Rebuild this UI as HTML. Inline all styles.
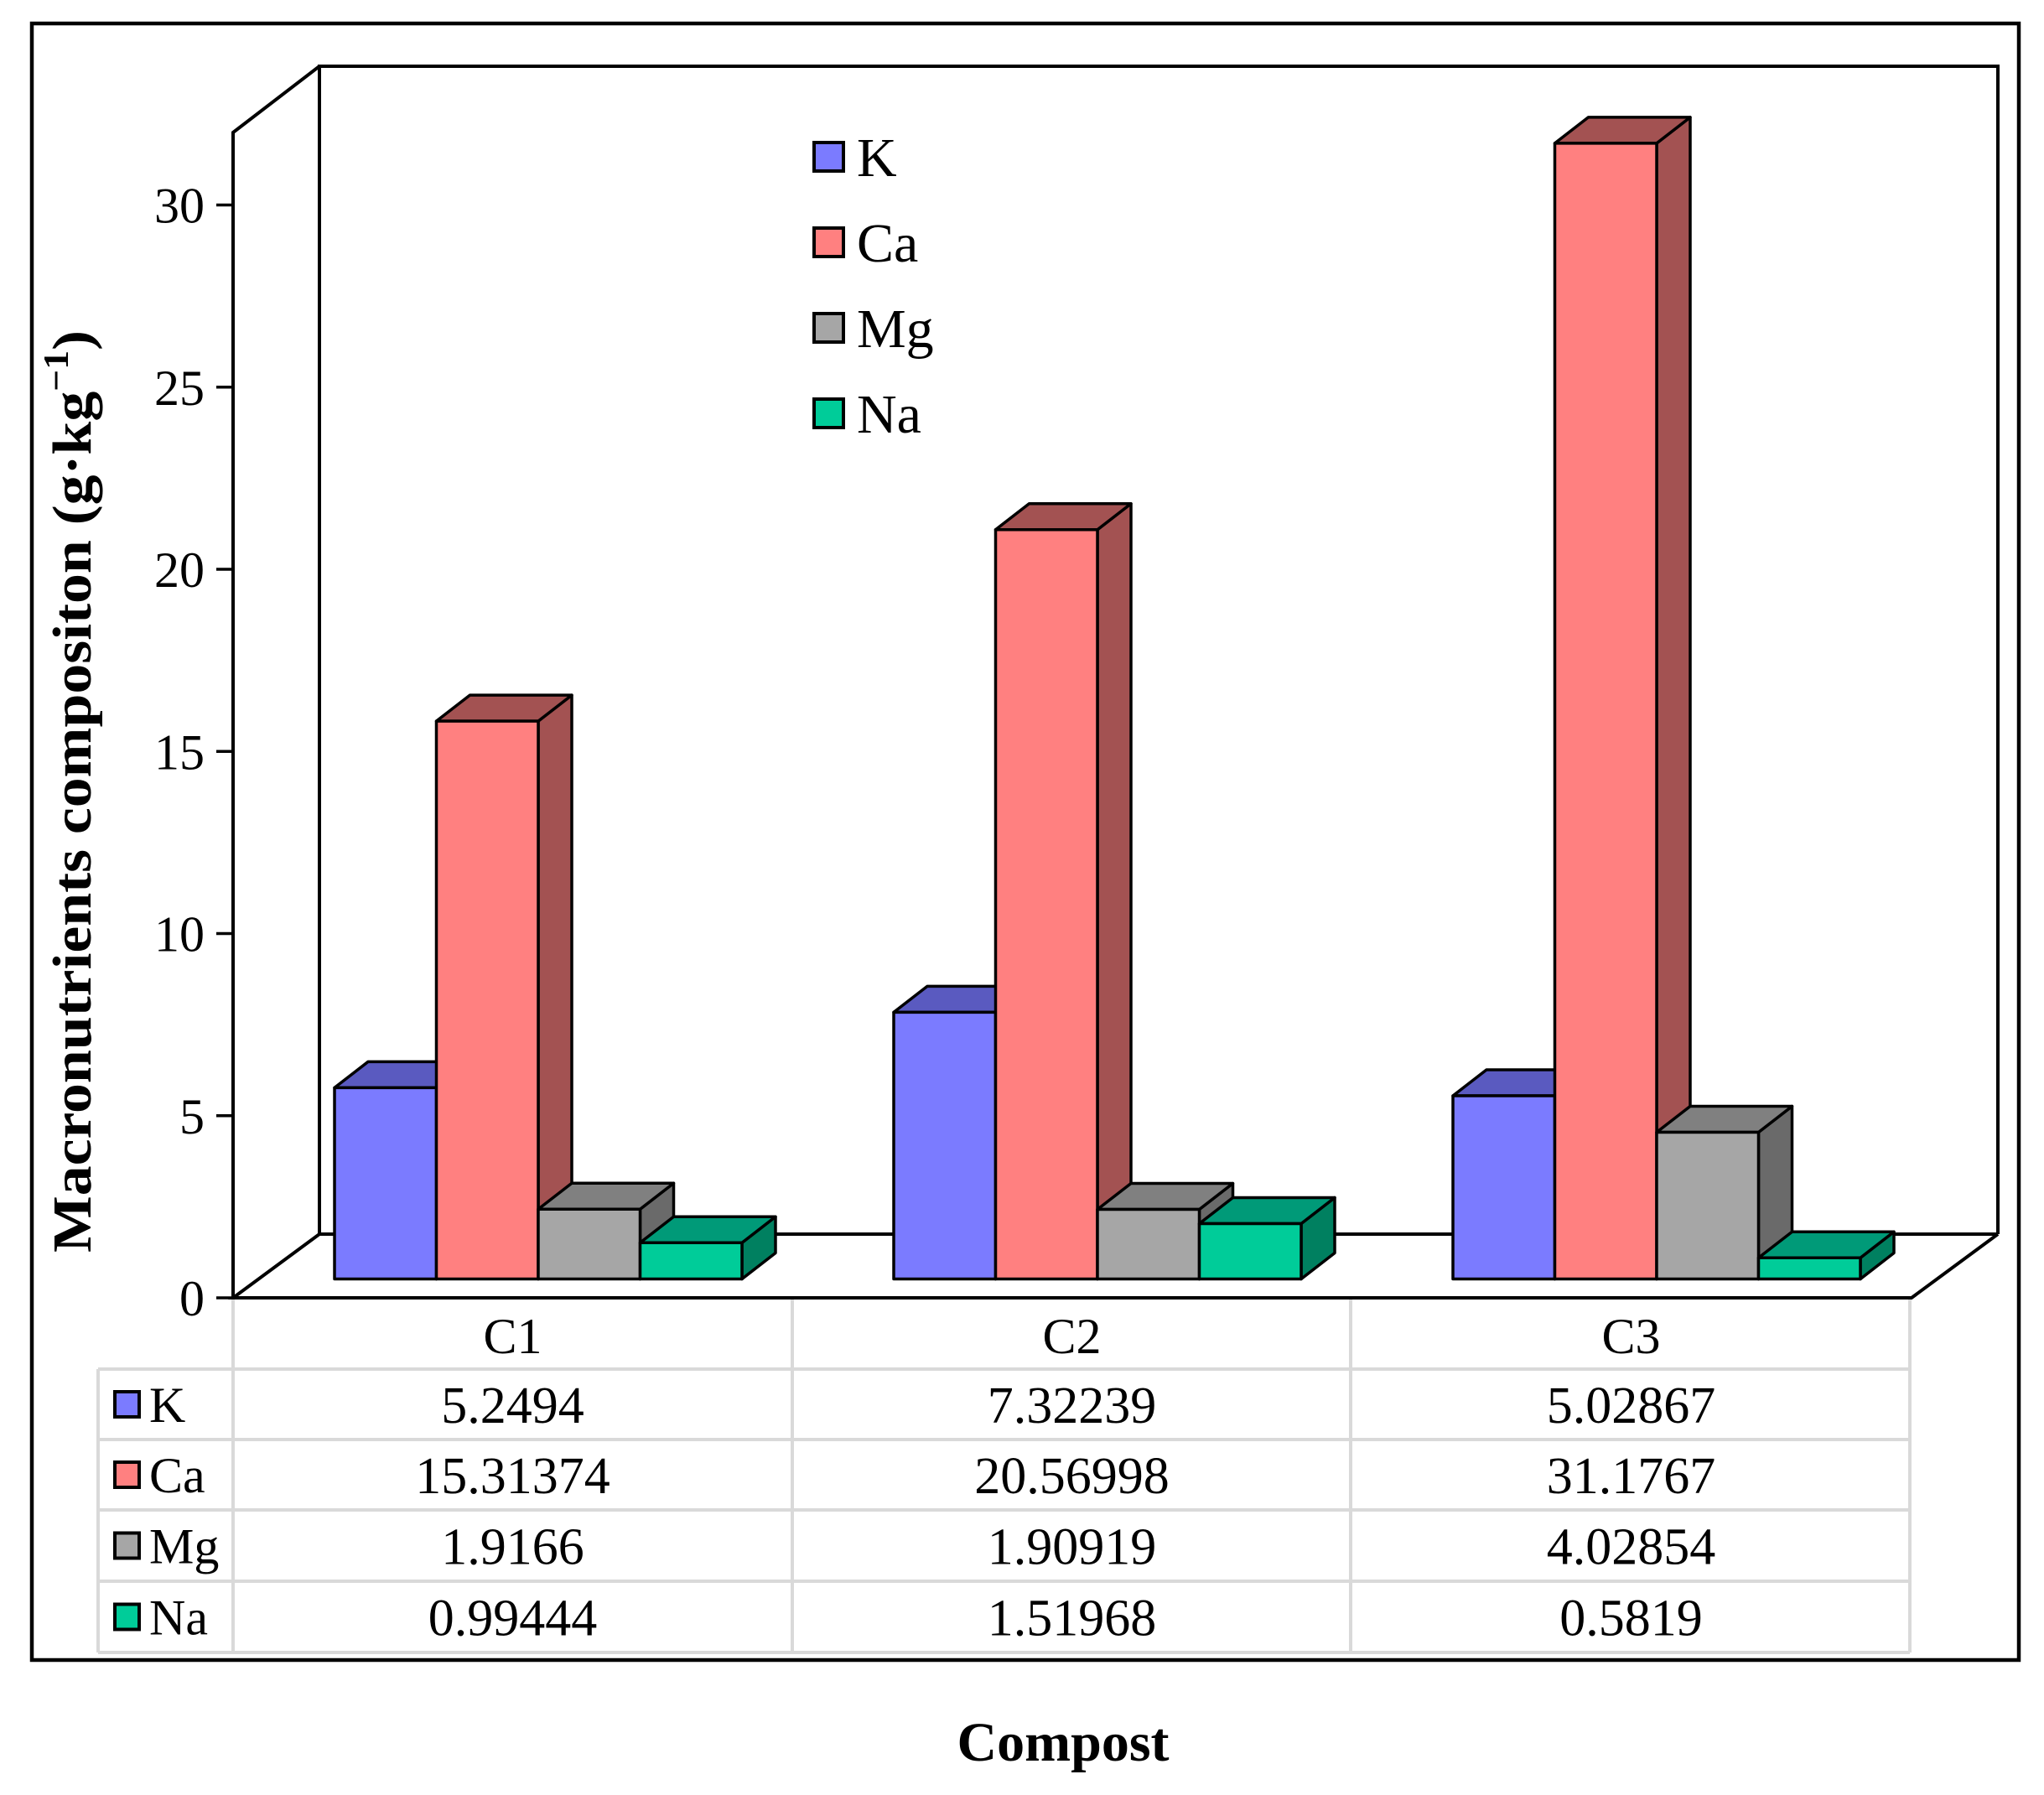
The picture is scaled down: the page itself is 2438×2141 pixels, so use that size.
<!DOCTYPE html>
<html><head><meta charset="utf-8"><style>
html,body{margin:0;padding:0;background:#fff;}
svg{display:block;font-family:"Liberation Serif",serif;}
</style></head><body>
<svg id="chart" width="2438" height="2141" viewBox="0 0 2438 2141" xmlns="http://www.w3.org/2000/svg">
<rect x="38" y="28" width="2370" height="1952" fill="#fff" stroke="#000" stroke-width="4.5"/>
<g id="walls" fill="none" stroke="#000" stroke-width="4">
<polyline points="381,1472 381,79 2383,79 2383,1472"/>
<line x1="381" y1="1472" x2="2383" y2="1472"/>
<polyline points="278,1548 278,158 381,79"/>
<polyline points="381,1472 278,1548 2280,1548 2383,1472"/>
</g>
<g id="ticks"></g>
<g id="bars"></g>
<g id="table"></g>
<g id="legend"></g>
<text transform="translate(108,944) rotate(-90)" text-anchor="middle" font-weight="bold" font-size="66" textLength="1100" lengthAdjust="spacingAndGlyphs">Macronutrients compositon (g·kg<tspan font-size="42" dy="-27">−1</tspan><tspan dy="27">)</tspan></text>
<text x="1268" y="2100" text-anchor="middle" font-weight="bold" font-size="66">Compost</text>
</svg>
<script>
const categories = ["C1", "C2", "C3"];
const seriesNames = ["K", "Ca", "Mg", "Na"];
const kValues = [5.2494, 7.32239, 5.02867];
const caValues = [15.31374, 20.56998, 31.1767];
const mgValues = [1.9166, 1.90919, 4.02854];
const naValues = [0.99444, 1.51968, 0.5819];
const kLabels = ["5.2494", "7.32239", "5.02867"];
const caLabels = ["15.31374", "20.56998", "31.1767"];
const mgLabels = ["1.9166", "1.90919", "4.02854"];
const naLabels = ["0.99444", "1.51968", "0.5819"];
const yTicks = [0, 5, 10, 15, 20, 25, 30];

const NS = "http://www.w3.org/2000/svg";
const series = [kValues, caValues, mgValues, naValues];
const labels = [kLabels, caLabels, mgLabels, naLabels];
const fronts = ["#7b7bff", "#ff8080", "#a6a6a6", "#00cc99"];
const tops = ["#5a5ac0", "#a35252", "#808080", "#009a78"];
const sides = ["#4a4aa0", "#a35252", "#6a6a6a", "#008060"];
const UNIT = 43.45;
function yAxis(v){ return 1548 - v*UNIT; }
function yBar(v){ return 1525.5 - v*UNIT; }
const COL0 = 278, COLW = 667;
function xGroup(i){ return COL0 + i*COLW + 121; }
const BW = 121.5, DX = 40, DY = 31;
function mk(tag, attrs, parent){
  const e = document.createElementNS(NS, tag);
  for (const k in attrs) e.setAttribute(k, attrs[k]);
  parent.appendChild(e); return e;
}
const tg = document.getElementById("ticks");
yTicks.forEach(t => {
  const y = yAxis(t);
  const l = mk("line", {x1:258, x2:278, y1:y, y2:y, stroke:"#000", "stroke-width":3.5}, tg);
  
  
  const tx = mk("text", {x:244, y:y+21, "text-anchor":"end", "font-size":60}, tg);
  tx.textContent = t;
  
  
});
const bg = document.getElementById("bars");
categories.forEach((c, i) => {
  series.forEach((vals, s) => {
    const x0 = xGroup(i) + s*BW, x1 = x0 + BW;
    const yt = yBar(vals[i]), yb = yBar(0);
    const g = mk("g", {stroke:"#000", "stroke-width":3.5, "stroke-linejoin":"round"}, bg);
    
    
    mk("polygon", {points:`${x1},${yt} ${x1+DX},${yt-DY} ${x1+DX},${yb-DY} ${x1},${yb}`, fill:sides[s]}, g);
    mk("polygon", {points:`${x0},${yt} ${x0+DX},${yt-DY} ${x1+DX},${yt-DY} ${x1},${yt}`, fill:tops[s]}, g);
    mk("rect", {x:x0, y:yt, width:BW, height:yb-yt, fill:fronts[s]}, g);
  });
});
const tb = document.getElementById("table");
const rows = [1548, 1633, 1717, 1801, 1886, 1971];
const gc = {stroke:"#d9d9d9", "stroke-width":4};
for (let r = 1; r < rows.length; r++) {
  const l = mk("line", Object.assign({x1:117, x2:2278, y1:rows[r], y2:rows[r]}, gc), tb);
  
  
}
[117].forEach(x => {
  const l = mk("line", Object.assign({x1:x, x2:x, y1:rows[1], y2:rows[5]}, gc), tb);
  
  
});
[278, 945, 1611, 2278].forEach(x => {
  const l = mk("line", Object.assign({x1:x, x2:x, y1:1550, y2:rows[5]}, gc), tb);
  
  
});
categories.forEach((c, i) => {
  const t = mk("text", {x:COL0 + i*COLW + COLW/2, y:1614, "text-anchor":"middle", "font-size":60}, tb);
  t.textContent = c;
  
  
});
seriesNames.forEach((n, s) => {
  const cy = (rows[s+1] + rows[s+2]) / 2;
  const sq = mk("rect", {x:137, y:cy-15, width:29, height:30, fill:fronts[s], stroke:"#000", "stroke-width":4}, tb);
  
  
  const t = mk("text", {x:178, y:cy+21, "font-size":60}, tb);
  t.textContent = n;
  
  
  labels[s].forEach((lab, i) => {
    const v = mk("text", {x:COL0 + i*COLW + COLW/2, y:cy+22, "text-anchor":"middle", "font-size":62}, tb);
    v.textContent = lab;
    
    
  });
});
const lg = document.getElementById("legend");
seriesNames.forEach((n, s) => {
  const cy = 187 + s*102;
  const sq = mk("rect", {x:971, y:cy-17, width:35, height:34, fill:fronts[s], stroke:"#000", "stroke-width":4}, lg);
  
  
  const t = mk("text", {x:1022, y:cy+23, "font-size":66}, lg);
  t.textContent = n;
  
  
});
</script>
</body></html>
